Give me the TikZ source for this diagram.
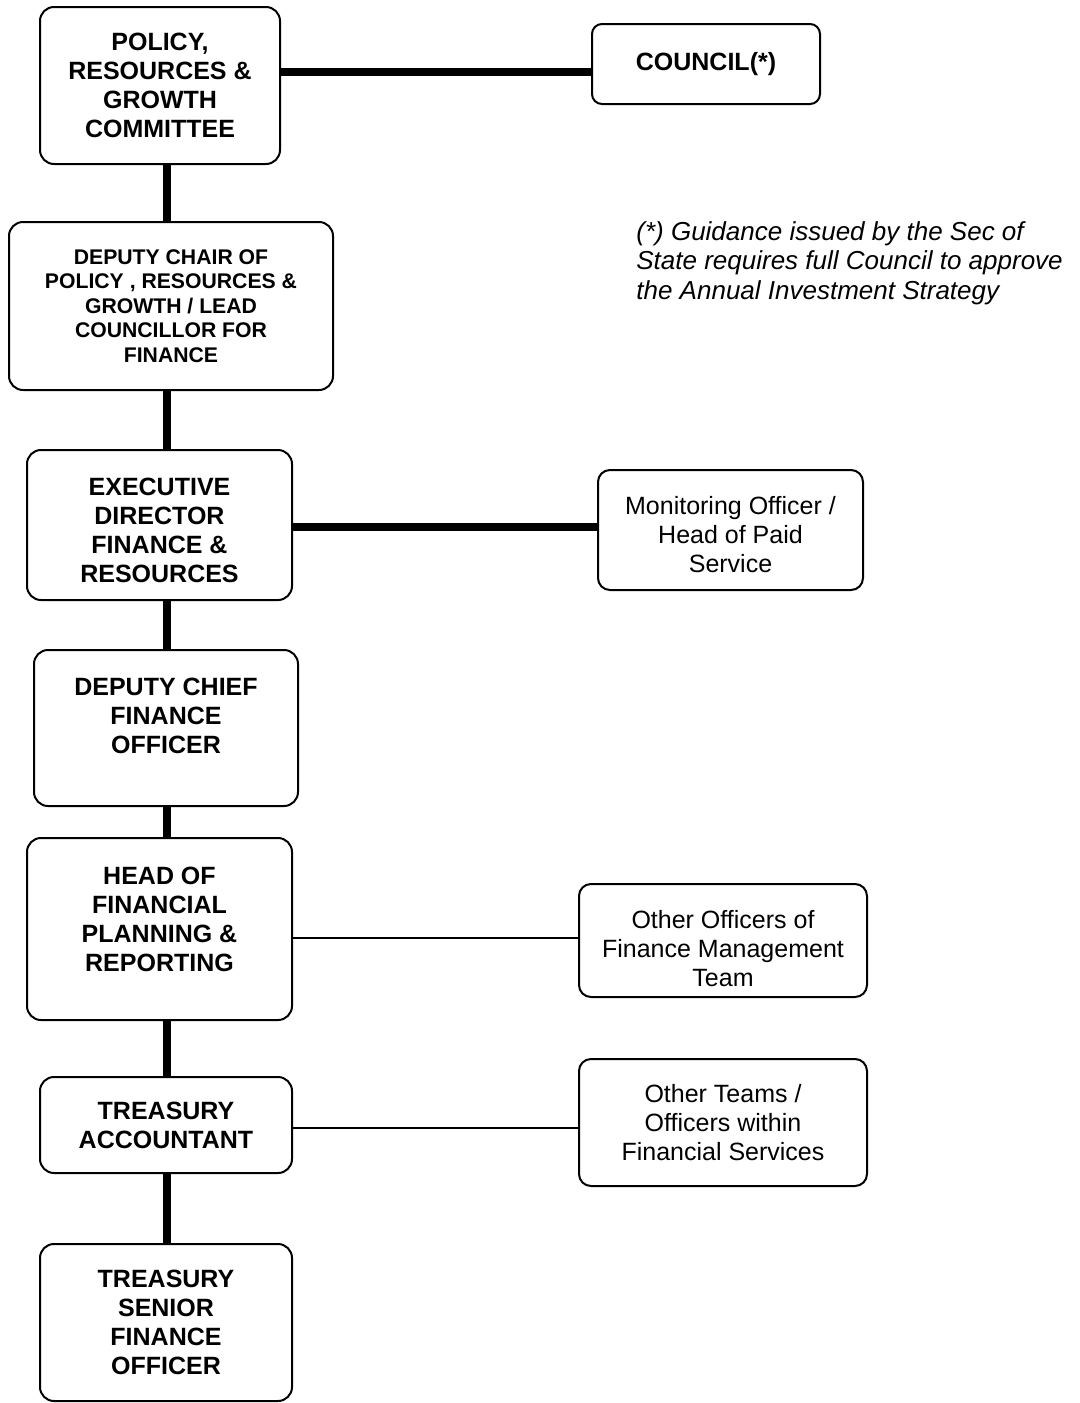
\documentclass[tikz,border=0pt]{standalone}
\usepackage{fontspec}
\setmainfont{Liberation Sans}
\usetikzlibrary{positioning,calc}
% struts to move a text up or down inside its box
\newcommand{\liftby}[1]{\rule[-#1]{0pt}{0pt}}
\newcommand{\dropby}[1]{\rule{0pt}{#1}}

\begin{document}
\begin{tikzpicture}[
	x=0.5pt, y=-0.5pt,
	% box style for the posts
	post/.style={
		draw=black,
		line width=1pt,
		fill=white,
		rounded corners=7pt,
		align=center,
		inner sep=2pt,
		font=\bfseries\fontsize{12.5pt}{14.5pt}\selectfont
	},
	small post/.style={post, font=\bfseries\fontsize{10.6pt}{12.3pt}\selectfont},
	side post/.style={post, rounded corners=6pt, font=\fontsize{12.5pt}{14.5pt}\selectfont},
	strong link/.style={line width=4pt},
	weak link/.style={line width=1pt},
	note/.style={align=left, inner sep=0pt, font=\itshape\fontsize{13pt}{14.7pt}\selectfont}
	]
	\useasboundingbox (0,0) rectangle (1080,1403);
	\coordinate (spine) at (167,0);
	
	% left column, top to bottom
	\node[post, minimum width=120pt, minimum height=78.5pt] (policy) at (160,85.5) {POLICY,\\RESOURCES \&\\GROWTH\\COMMITTEE};
	\node[small post, minimum width=162pt, minimum height=84pt] (deputy) at (171,306) {DEPUTY CHAIR OF\\POLICY , RESOURCES \&\\GROWTH / LEAD\\COUNCILLOR FOR\\FINANCE};
	\node[post, minimum width=132.5pt, minimum height=75pt] (exec) at (159.5,525) {\dropby{14.6pt}EXECUTIVE\\DIRECTOR\\FINANCE \&\\RESOURCES};
	\node[post, minimum width=132pt, minimum height=78pt] (chief) at (166,728) {DEPUTY CHIEF\\FINANCE\\OFFICER\liftby{12pt}};
	\node[post, minimum width=132.5pt, minimum height=91pt] (head) at (159.5,929) {HEAD OF\\FINANCIAL\\PLANNING \&\\REPORTING\liftby{10pt}};
	\node[post, minimum width=126pt, minimum height=48pt] (treasury) at (166,1125) {TREASURY\\ACCOUNTANT};
	\node[post, minimum width=126pt, minimum height=78.5pt] (senior) at (166,1322.5) {TREASURY\\SENIOR\\FINANCE\\OFFICER};
	
	% right column
	\node[post, rounded corners=5pt, minimum width=114pt, minimum height=40pt] (council) at (706,64) {COUNCIL(*)\liftby{3pt}};
	\node[side post, minimum width=132.5pt, minimum height=60pt] (monitor) at (730.5,530) {\dropby{13.8pt}Monitoring Officer /\\Head of Paid\\Service};
	\node[side post, minimum width=144pt, minimum height=56.5pt] (officers) at (723,940.5) {\dropby{16.8pt}Other Officers of\\Finance Management\\Team};
	\node[side post, minimum width=144pt, minimum height=63.5pt] (teams) at (723,1122.5) {Other Teams /\\Officers within\\Financial Services};
	
	\node[note, anchor=north west] (guidance) at (636,221) {(*) Guidance issued by the Sec of\\State requires full Council to approve\\the Annual Investment Strategy};
	
	% links
	\draw[strong link] (spine |- policy.south) -- (spine |- deputy.north);
	\draw[strong link] (spine |- deputy.south) -- (spine |- exec.north);
	\draw[strong link] (spine |- exec.south) -- (spine |- chief.north);
	\draw[strong link] (spine |- chief.south) -- (spine |- head.north);
	\draw[strong link] (spine |- head.south) -- (spine |- treasury.north);
	\draw[strong link] (spine |- treasury.south) -- (spine |- senior.north);
	\draw[strong link] ([yshift=6.75pt]policy.east) -- ([yshift=6.75pt]policy.east -| council.west);
	\draw[strong link] ([yshift=-1pt]exec.east) -- ([yshift=-1pt]exec.east -| monitor.west);
	\draw[weak link] ([yshift=-4.5pt]head.east) -- ([yshift=-4.5pt]head.east -| officers.west);
	\draw[weak link] ([yshift=-1.5pt]treasury.east) -- ([yshift=-1.5pt]treasury.east -| teams.west);
\end{tikzpicture}
\end{document}
